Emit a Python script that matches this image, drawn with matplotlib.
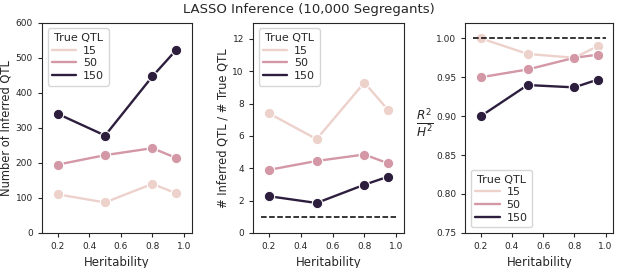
import matplotlib
matplotlib.use("Agg")
import matplotlib.pyplot as plt
from matplotlib.colors import Normalize
import seaborn as sns

sns.set_style("ticks")
plt.rcParams["font.family"] = ["DejaVu Sans"]

# data
heritability = [0.2, 0.5, 0.8, 0.95]
true_qtl = [15, 50, 150]

n_inferred = {
    15: [110, 87, 140, 113],
    50: [195, 222, 242, 214],
    150: [340, 278, 447, 522],
}
ratio_inferred = {
    15: [7.4, 5.8, 9.3, 7.6],
    50: [3.9, 4.45, 4.85, 4.3],
    150: [2.27, 1.85, 2.98, 3.48],
}
r2_over_h2 = {
    15: [1.0, 0.98, 0.975, 0.99],
    50: [0.95, 0.96, 0.975, 0.979],
    150: [0.90, 0.94, 0.937, 0.947],
}

cmap = sns.cubehelix_palette(as_cmap=True)
norm = Normalize(min(true_qtl), max(true_qtl))
colors = {q: cmap(norm(q)) for q in true_qtl}

fig = plt.figure(figsize=(6.17, 2.68), dpi=100)
bottom, height = 0.131, 0.784
ax1 = fig.add_axes([0.068, bottom, 0.243, height])
ax2 = fig.add_axes([0.410, bottom, 0.245, height])
ax3 = fig.add_axes([0.754, bottom, 0.240, height])


def draw(ax, data):
    for q in true_qtl:
        ax.plot(heritability, data[q], "-o", color=colors[q], lw=1.7,
                ms=7.5, mec="white", mew=0.8, label=str(q))


draw(ax1, n_inferred)
ax1.set_ylim(0, 600)
ax1.set_ylabel("Number of Inferred QTL", fontsize=8.3, labelpad=2)

draw(ax2, ratio_inferred)
ax2.hlines(1, 0.15, 1.0, colors="black", linestyles="--", lw=1.1)
ax2.set_ylim(0, 13)
ax2.set_yticks([0, 2, 4, 6, 8, 10, 12])
ax2.set_ylabel("# Inferred QTL / # True QTL", fontsize=8.3, labelpad=2)

draw(ax3, r2_over_h2)
ax3.hlines(1, 0.15, 1.0, colors="black", linestyles="--", lw=1.1)
ax3.set_ylim(0.75, 1.02)
ax3.set_yticks([0.75, 0.80, 0.85, 0.90, 0.95, 1.00])
ax3.set_ylabel(r"$\frac{R^2}{H^2}$", fontsize=12.5, rotation=0, va="center", ha="center")
ax3.yaxis.set_label_coords(-0.27, 0.52)

for ax, loc in [(ax1, "upper left"), (ax2, "upper left"), (ax3, "lower left")]:
    ax.set_xlim(0.1, 1.05)
    ax.set_xticks([0.2, 0.4, 0.6, 0.8, 1.0])
    ax.set_xlabel("Heritability", fontsize=8.5)
    ax.tick_params(labelsize=6.5, length=3)
    handles = [plt.Line2D([], [], color=colors[q], lw=1.7) for q in true_qtl]
    ax.legend(handles, [str(q) for q in true_qtl], title="True QTL", loc=loc,
              fontsize=8, title_fontsize=8, handlelength=2.2,
              borderpad=0.4, labelspacing=0.25, handletextpad=0.6)

fig.text(0.5, 0.965, "LASSO Inference (10,000 Segregants)", ha="center",
         va="center", fontsize=9.5)

fig.savefig("out.png", dpi=100)
